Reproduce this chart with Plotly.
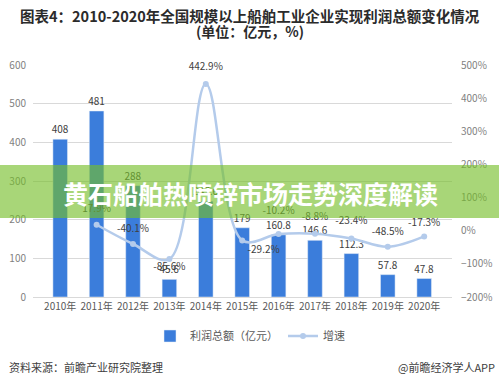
import plotly.graph_objects as go

years = ["2010年", "2011年", "2012年", "2013年", "2014年", "2015年", "2016年", "2017年", "2018年", "2019年", "2020年"]
profit = [408, 481, 288, 45.6, 247.6, 179, 160.8, 146.6, 112.3, 57.8, 47.8]
growth = [None, 17.9, -40.1, -85.6, 442.9, -29.2, -10.2, -8.8, -23.4, -48.5, -17.3]
growth_pos = ["top center", "top center", "top center", "bottom center", "top center",
              "bottom right", "top center", "top center", "top center", "top center", "top center"]
# spacing of each growth label from its point (size of an invisible marker)
label_gap = [10, 15, 13, 4, 17, 7, 27, 17, 17, 13, 11]

FONT = "Noto Sans CJK SC"
BAR = "#3b7ddb"
LINE = "#b4cbeb"

W, H = 499, 388
PL, PR, PT, PB = 33, 452, 65, 297          # plot area in pixels
PW, PH = PR - PL, PB - PT


def px(x):
    return (x - PL) / PW


def py(y):
    return (PB - y) / PH


fig = go.Figure()
fig.add_trace(go.Bar(
    x=years, y=profit, name="利润总额（亿元）",
    marker_color=BAR, width=0.4,
    text=[f"{v:g}" for v in profit], textposition="outside", cliponaxis=False,
    constraintext="none", textangle=0,
    textfont=dict(size=10, color="#404040", family=FONT),
))
fig.add_trace(go.Scatter(
    x=years, y=growth, name="增速", yaxis="y2",
    mode="lines+markers",
    line=dict(color=LINE, width=2.5, shape="spline", smoothing=1.0),
    marker=dict(size=6, color=LINE),
))
fig.add_trace(go.Scatter(
    x=years, y=growth, yaxis="y2", showlegend=False, hoverinfo="skip",
    mode="markers+text",
    marker=dict(size=label_gap, color=LINE, opacity=0, line=dict(width=0)),
    text=[None if g is None else f"{g}%" for g in growth],
    textposition=growth_pos, cliponaxis=False,
    textfont=dict(size=10, color="#404040", family=FONT),
))

fig.update_layout(
    width=W, height=H,
    margin=dict(l=PL, r=W - PR, t=PT, b=H - PB, autoexpand=False),
    paper_bgcolor="white", plot_bgcolor="white",
    font=dict(family=FONT, size=10, color="#595959"),
    hovermode=False,
    showlegend=True,
    legend=dict(orientation="h", x=px(250), xanchor="center", y=py(336), yanchor="middle",
                font=dict(size=11, color="#595959"), itemwidth=30),
    xaxis=dict(showgrid=False, showline=True, linecolor="#d9d9d9", linewidth=1,
               ticks="", tickfont=dict(size=10, color="#595959")),
    yaxis=dict(range=[0, 600], dtick=100, showgrid=True, gridcolor="#d9d9d9", zeroline=False,
               showline=False, ticks="", ticklabelstandoff=6,
               tickfont=dict(size=10, color="#7f7f7f")),
    yaxis2=dict(range=[-200, 500], dtick=100, overlaying="y", side="right", showgrid=False,
                zeroline=False, showline=False, ticks="", ticksuffix="%", ticklabelstandoff=8,
                tickfont=dict(size=10, color="#7f7f7f")),
    bargap=0.6,
)

# title
fig.add_annotation(text="<b>图表4：2010-2020年全国规模以上船舶工业企业实现利润总额变化情况</b>",
                   xref="paper", yref="paper", x=px(250), y=py(15),
                   xanchor="center", yanchor="middle", showarrow=False,
                   font=dict(size=14.5, color="#2b2b2b", family=FONT))
fig.add_annotation(text="<b>(单位：亿元，%)</b>",
                   xref="paper", yref="paper", x=px(250), y=py(31),
                   xanchor="center", yanchor="middle", showarrow=False,
                   font=dict(size=14, color="#2b2b2b", family=FONT))
# footer
fig.add_annotation(text="资料来源：前瞻产业研究院整理",
                   xref="paper", yref="paper", x=px(7), y=py(367),
                   xanchor="left", yanchor="middle", showarrow=False,
                   font=dict(size=11, color="#404040", family=FONT))
fig.add_annotation(text="@前瞻经济学人APP",
                   xref="paper", yref="paper", x=px(497), y=py(367),
                   xanchor="right", yanchor="middle", showarrow=False,
                   font=dict(size=11, color="#404040", family=FONT))

# banner
fig.add_shape(type="rect", xref="paper", yref="paper",
              x0=px(0), x1=px(499), y0=py(218), y1=py(165),
              fillcolor="rgba(117,190,41,0.63)", line=dict(width=0), layer="above")
fig.add_annotation(text="<b>黄石船舶热喷锌市场走势深度解读</b>",
                   xref="paper", yref="paper", x=px(250), y=py(193),
                   xanchor="center", yanchor="middle", showarrow=False,
                   font=dict(size=25, color="white", family=FONT))

# remove the browser's default 8px page margin so the figure fills the window
fig.write_html("out.html", config={"displayModeBar": False},
               post_script="document.body.style.margin='0';")
